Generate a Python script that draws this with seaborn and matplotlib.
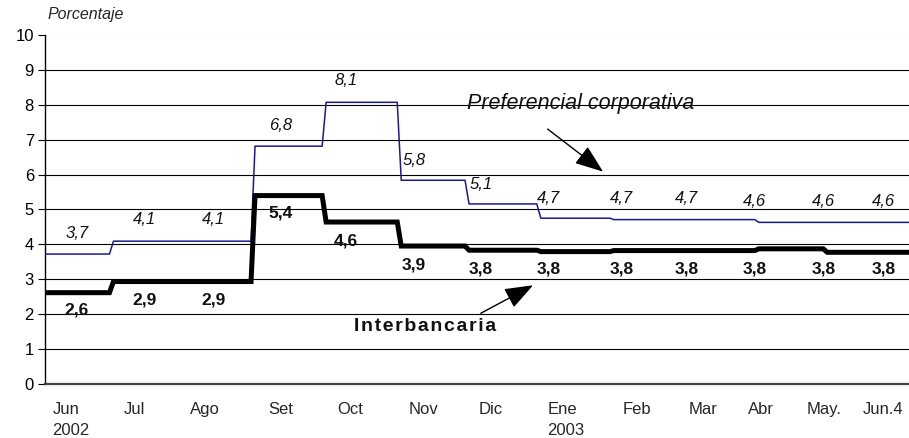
import numpy as np
import matplotlib.pyplot as plt
import pandas as pd
import seaborn as sns

# Meses (eje categorico) y etiquetas de cada mes
meses = ['Jun\n2002', 'Jul', 'Ago', 'Set', 'Oct', 'Nov', 'Dic', 'Ene\n2003',
         'Feb', 'Mar', 'Abr', 'May.', 'Jun.4']
pref_etiq = [3.7, 4.1, 4.1, 6.8, 8.1, 5.8, 5.1, 4.7, 4.7, 4.7, 4.6, 4.6, 4.6]
inter_etiq = [2.6, 2.9, 2.9, 5.4, 4.6, 3.9, 3.8, 3.8, 3.8, 3.8, 3.8, 3.8, 3.8]

# cambios de nivel de las tasas (en meses desde inicio de junio 2002)
cambio = [0, 0.97, 3.1, 4.17, 5.3, 6.32, 7.4, 8.5, 10.68, 11.71, 13]
pref_nivel = [3.72, 4.09, 6.82, 8.08, 5.84, 5.16, 4.75, 4.71, 4.63, 4.63, 4.63]
inter_nivel = [2.61, 2.93, 5.40, 4.64, 3.95, 3.83, 3.79, 3.82, 3.87, 3.77, 3.77]

# donde van los textos del eje x y de los valores
pos_meses = [0.39, 1.34, 2.41, 3.54, 4.59, 5.69, 6.71, 7.84, 8.91, 9.90, 10.77, 11.72, 12.61]
pos_etiq = [0.48, 1.50, 2.54, 3.55, 4.53, 5.55, 6.56, 7.58, 8.67, 9.65, 10.68, 11.72, 12.62]


def escalones(x, y, rampa=0.06):
    # serie escalonada con una pequena rampa en cada cambio
    xs, ys = [x[0]], [y[0]]
    for k in range(1, len(x)):
        xs += [x[k], x[k] + rampa]
        ys += [y[k - 1], y[k]]
    return pd.DataFrame({'x': xs, 'y': ys})


sns.set_style('white')
plt.rcParams['font.family'] = ['Liberation Sans', 'DejaVu Sans']

fig = plt.figure(figsize=(9.09, 4.38), dpi=100)
ax = fig.add_axes([45 / 909, 1 - 383.5 / 438, 864 / 909, 348 / 438])

df_pref = escalones(cambio, pref_nivel)
df_inter = escalones(cambio, inter_nivel)
sns.lineplot(data=df_pref, x='x', y='y', color='#1a1a8c', lw=1.1, sort=False,
             estimator=None, ax=ax, zorder=4)
sns.lineplot(data=df_inter, x='x', y='y', color='black', lw=3.6, sort=False,
             estimator=None, ax=ax, zorder=5, solid_joinstyle='miter')

ax.set_xlim(0, 13)
ax.set_ylim(0, 10)
ax.set_yticks(range(0, 11))
ax.grid(axis='y', color='black', lw=0.8)
ax.grid(axis='x', visible=False)
ax.get_ygridlines()[-1].set_color('#808080')
ax.set_axisbelow(True)
for s in ['top', 'right']:
    ax.spines[s].set_visible(False)
ax.spines['left'].set_color('black')
ax.spines['bottom'].set_color('#444444')
ax.spines['left'].set_linewidth(1.0)
ax.spines['bottom'].set_linewidth(1.6)
ax.tick_params(axis='y', left=True, length=5, width=0.8, labelsize=12,
               colors='black', pad=3)
ax.set_xlabel('')
ax.set_ylabel('')

# etiquetas del eje x
ax.set_xticks(pos_meses)
ax.set_xticklabels(meses, fontsize=12, linespacing=1.5, multialignment='left')
ax.tick_params(axis='x', bottom=False, pad=10)

# valores de cada mes
for i in range(len(meses)):
    ax.text(pos_etiq[i], pref_etiq[i] + 0.62, f'{pref_etiq[i]:.1f}'.replace('.', ','),
            ha='center', va='center', fontsize=12, style='italic', color='#111111')
    ax.text(pos_etiq[i], inter_etiq[i] - 0.5, f'{inter_etiq[i]:.1f}'.replace('.', ','),
            ha='center', va='center', fontsize=12.5, weight='bold', color='#111111')

ax.text(8.06, 8.05, 'Preferencial corporativa', ha='center', va='center',
        fontsize=15.5, style='italic', color='#111111', zorder=1)
ax.annotate('', xy=(8.43, 6.04), xytext=(7.53, 7.36),
            arrowprops=dict(arrowstyle='-|>,head_length=0.8,head_width=0.3',
                            color='black', lw=1.0, mutation_scale=22))
ax.text(5.72, 1.64, 'I n t e r b a n c a r i a'.replace(' ', '\u200a'),
        ha='center', va='center', fontsize=14, weight='bold', color='#111111')
ax.annotate('', xy=(7.38, 2.86), xytext=(6.52, 1.98),
            arrowprops=dict(arrowstyle='-|>,head_length=0.8,head_width=0.3',
                            color='black', lw=1.0, mutation_scale=22))

fig.text(0.052, 0.968, 'Porcentaje', ha='left', va='center',
         fontsize=11.5, style='italic')

fig.savefig('out.png', dpi=100)
